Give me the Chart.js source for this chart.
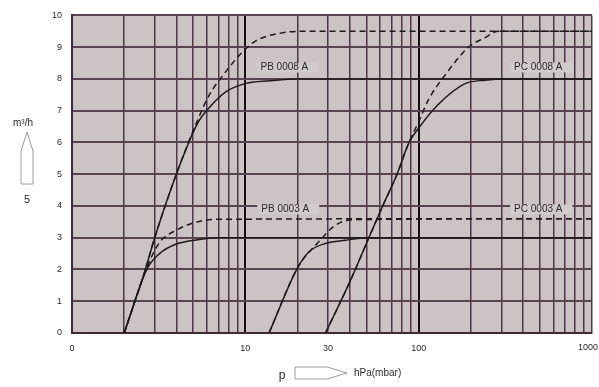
<!DOCTYPE html>
<html>
<head>
  <meta charset="UTF-8" />
  <title>Saugvermögen</title>
  <script src="https://cdn.jsdelivr.net/npm/chart.js"></script>
  <style>
    body {
      margin: 0;
      padding: 0;
      background: #fff;
    }
    #wrap {
      width: 599px;
      height: 387px;
    }
  </style>
</head>
<body>
  <div id="wrap"><canvas id="speedChart"></canvas></div>

  <script>
    // pressure ticks on the log axis (grid at every 1..9 step of each decade)
    const xGridValues = [1, 2, 3, 4, 5, 6, 7, 8, 9,
      10, 20, 30, 40, 50, 60, 70, 80, 90,
      100, 200, 300, 400, 500, 600, 700, 800, 900, 1000];
    // 1000 sits on the right edge, so it is written right-aligned by the plugin
    const xTickLabels = { 1: '0', 10: '10', 30: '30', 100: '100' };
    const xLastLabel = '1000';

    // PB 0008 A
    const pb8SolidP = [2, 2.65, 3, 4, 5.3, 6.2, 7.75, 10.1, 13.7, 20, 1000];
    const pb8SolidQ = [0, 2, 3, 5, 6.6, 7.1, 7.6, 7.86, 7.94, 8, 8];
    const pb8DashP = [2, 2.65, 3, 4, 5.3, 6.2, 7.4, 9.6, 11.5, 16.3, 22, 1000];
    const pb8DashQ = [0, 2, 3, 5, 6.7, 7.5, 8.1, 8.84, 9.2, 9.45, 9.5, 9.5];

    // PB 0003 A
    const pb3SolidP = [2, 2.7, 3.2, 4, 5.2, 7, 1000];
    const pb3SolidQ = [0, 2.0, 2.5, 2.8, 2.93, 3.0, 3.0];
    const pb3DashP = [2, 2.7, 3.2, 4, 5.2, 6.8, 1000];
    const pb3DashQ = [0, 2.05, 2.85, 3.24, 3.49, 3.58, 3.6];

    // PC 0003 A
    const pc3SolidP = [13.7, 20, 23.3, 29, 37.9, 50, 1000];
    const pc3SolidQ = [0, 2.05, 2.56, 2.82, 2.92, 3.0, 3.0];
    const pc3DashP = [13.7, 20, 26.5, 33, 43, 1000];
    const pc3DashQ = [0, 2.05, 2.87, 3.39, 3.57, 3.6];

    // PC 0008 A
    const pc8SolidP = [29, 40, 51.6, 62, 75, 88, 100, 130, 185, 241, 320, 1000];
    const pc8SolidQ = [0, 1.6, 3.0, 4.0, 5.0, 6.0, 6.45, 7.2, 7.85, 7.96, 8, 8];
    const pc8DashP = [29, 40, 51.6, 62, 75, 88, 100, 114, 142, 194, 241, 288, 1000];
    const pc8DashQ = [0, 1.6, 3.0, 4.0, 5.0, 6.0, 6.65, 7.35, 8.12, 9.0, 9.3, 9.5, 9.5];

    // curve names and where they are written
    const curveNames = ['PB 0008 A', 'PC 0008 A', 'PB 0003 A', 'PC 0003 A'];
    const nameP = [16.8, 490, 17, 490];
    const nameQ = [8.36, 8.36, 3.89, 3.89];

    const toPoints = (ps, qs) => ps.map((p, i) => ({ x: p, y: qs[i] }));

    function curve(ps, qs, dashed) {
      return {
        data: toPoints(ps, qs),
        borderColor: '#1e1a1c',
        borderWidth: 1.5,
        borderDash: dashed ? [6, 4] : [],
        pointRadius: 0,
        fill: false,
        cubicInterpolationMode: 'monotone'
      };
    }

    const plotBg = '#cbc3c4';
    const textColor = '#2a2a2a';
    const fontFamily = '"Liberation Sans", Arial, sans-serif';

    // background of the plotting area
    const plotBackground = {
      id: 'plotBackground',
      beforeDraw(chart) {
        const { ctx, chartArea: a } = chart;
        ctx.save();
        ctx.fillStyle = plotBg;
        ctx.fillRect(a.left, a.top, a.right - a.left, a.bottom - a.top);
        ctx.restore();
      }
    };

    // curve names, unit text and the two outline arrows
    const annotations = {
      id: 'annotations',
      afterDraw(chart) {
        const { ctx, scales, chartArea } = chart;
        ctx.save();

        ctx.font = '10px ' + fontFamily;
        ctx.textBaseline = 'middle';
        ctx.textAlign = 'center';
        curveNames.forEach((name, i) => {
          const x = scales.x.getPixelForValue(nameP[i]);
          const y = scales.y.getPixelForValue(nameQ[i]);
          const w = ctx.measureText(name).width;
          ctx.fillStyle = '#d2cbcc';
          ctx.fillRect(x - w / 2 - 4, y - 5, w + 14, 10);
          ctx.fillStyle = textColor;
          ctx.fillText(name, x, y);
        });

        // last pressure label
        ctx.textAlign = 'right';
        ctx.font = '9px ' + fontFamily;
        ctx.fillText(xLastLabel, 598, chartArea.bottom + 15);

        // y unit
        ctx.textAlign = 'left';
        ctx.font = '10px ' + fontFamily;
        ctx.fillText('m³/h', 13, 123);

        // up arrow
        ctx.strokeStyle = '#9a9a9a';
        ctx.lineWidth = 1;
        ctx.beginPath();
        ctx.moveTo(27, 132);
        ctx.lineTo(33, 151);
        ctx.lineTo(33, 184);
        ctx.lineTo(21, 184);
        ctx.lineTo(21, 151);
        ctx.closePath();
        ctx.stroke();

        ctx.textAlign = 'center';
        ctx.font = '11px ' + fontFamily;
        ctx.fillText('5', 27, 200);

        // x unit
        ctx.font = '12px ' + fontFamily;
        ctx.fillText('p', 282, 376);

        ctx.beginPath();
        ctx.moveTo(295, 367);
        ctx.lineTo(327, 367);
        ctx.lineTo(347, 373);
        ctx.lineTo(327, 379);
        ctx.lineTo(295, 379);
        ctx.closePath();
        ctx.stroke();

        ctx.textAlign = 'left';
        ctx.font = '10px ' + fontFamily;
        ctx.fillText('hPa(mbar)', 354, 373);

        ctx.restore();
      }
    };

    const ctx = document.getElementById('speedChart').getContext('2d');
    new Chart(ctx, {
      type: 'line',
      data: {
        datasets: [
          curve(pb8SolidP, pb8SolidQ, false),
          curve(pb8DashP, pb8DashQ, true),
          curve(pb3SolidP, pb3SolidQ, false),
          curve(pb3DashP, pb3DashQ, true),
          curve(pc3SolidP, pc3SolidQ, false),
          curve(pc3DashP, pc3DashQ, true),
          curve(pc8SolidP, pc8SolidQ, false),
          curve(pc8DashP, pc8DashQ, true)
        ]
      },
      options: {
        responsive: true,
        maintainAspectRatio: false,
        animation: false,
        layout: {
          padding: { top: 9, right: 7, bottom: 0, left: 0 }
        },
        plugins: {
          legend: { display: false },
          tooltip: { enabled: false }
        },
        scales: {
          x: {
            type: 'logarithmic',
            min: 1,
            max: 1000,
            afterBuildTicks(scale) {
              scale.ticks = xGridValues.map(v => ({ value: v, major: false }));
            },
            afterFit(scale) {
              scale.height = 54;
              scale.paddingLeft = 0;
              scale.paddingRight = 0;
            },
            grid: {
              drawTicks: false,
              color: c => (c.tick && (c.tick.value === 10 || c.tick.value === 100)) ? '#141014' : '#4e3747',
              lineWidth: c => (c.tick && (c.tick.value === 10 || c.tick.value === 100)) ? 2 : 1.5
            },
            border: { color: '#3e2a38', width: 2 },
            ticks: {
              autoSkip: false,
              maxRotation: 0,
              padding: 10,
              color: textColor,
              font: { family: fontFamily, size: 9 },
              callback: value => xTickLabels[value] || ''
            }
          },
          y: {
            min: 0,
            max: 10,
            afterFit(scale) {
              scale.width = 72;
            },
            grid: {
              drawTicks: false,
              color: '#5a4453',
              lineWidth: 2
            },
            border: { color: '#3e2a38', width: 2 },
            ticks: {
              stepSize: 1,
              padding: 10,
              color: textColor,
              font: { family: fontFamily, size: 9 }
            }
          }
        }
      },
      plugins: [plotBackground, annotations]
    });
  </script>
</body>
</html>
